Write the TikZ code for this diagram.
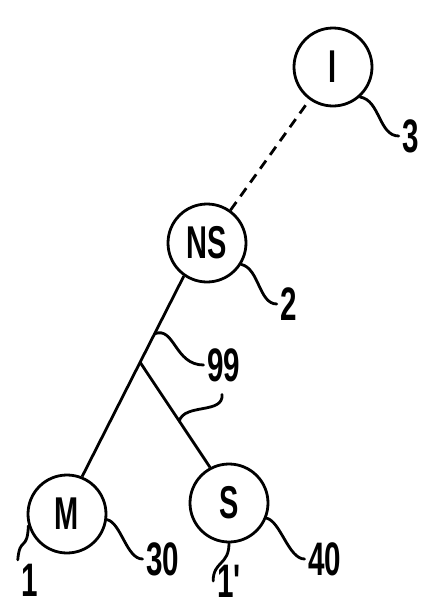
\documentclass[tikz,border=0pt]{standalone}
\usepackage{fontspec}
\newfontfamily\patentfont[FakeStretch=0.63]{Liberation Sans Bold}
\usetikzlibrary{calc}

\tikzset{
	state/.style={circle, draw, line width=2.8pt, minimum size=78pt, inner sep=0pt,
		font=\patentfont\fontsize{46}{46}\selectfont},
	tag/.style={inner sep=2pt, outer sep=2pt, text depth=0pt,
		font=\patentfont\fontsize{47}{47}\selectfont},
	lead/.style={line width=2.8pt, line cap=round},
	link/.style={line width=2.8pt},
	dashlink/.style={line width=2.8pt, dash pattern=on 10pt off 7pt}
}

\begin{document}
\begin{tikzpicture}[x=1pt, y=-1pt]
	\useasboundingbox (0,0) rectangle (423,606);

	% the four states
	\node[state] (I) at (333,67) {I};
	\node[state] (NS) at (207,243) {NS};
	\node[state] (M) at (67,514) {M};
	\node[state] (S) at (229,503) {S};

	% reference numerals
	\node[tag] (l3) at (411,136) {3};
	\node[tag] (l2) at (289,304) {2};
	\node[tag] (l99) at (224,365) {99};
	\node[tag] (l30) at (163,559) {30};
	\node[tag] (l40) at (325,559) {40};
	\node[tag] (l1) at (30,580) {1};
	\node[tag] (l1p) at (231,581) {1\textquotesingle};

	% tree
	\draw[dashlink] (NS) -- (I);
	\draw[link] (NS.235) -- (M.68);
	\coordinate (fork) at ($(NS.235)!0.43!(M.68)$);
	\draw[link] (fork) -- (S.118);

	% leaders
	\draw[lead] (I.-48) .. controls +(20,3) and +(-20,0) .. (l3.west);
	\draw[lead] (NS.-32) .. controls +(18,4) and +(-18,0) .. (l2.west);
	\draw[lead] (M.-8) .. controls +(14,3) and +(-16,0) .. (l30.west);
	\draw[lead] (S.-22) .. controls +(14,3) and +(-16,0) .. (l40.west);
	\draw[lead] (M.197) .. controls +(-1,26) and +(2,-24) .. (l1.north west);
	\draw[lead] (S.-90) .. controls +(0,22) and +(0,-20) .. (l1p.west);

	\coordinate (s99a) at ($(NS.235)!0.288!(M.68)$);
	\coordinate (s99b) at ($(fork)!0.56!(S.118)$);
	\coordinate (t99) at ($(l99.south)+(-2,9)$);
	\draw[lead] (s99a) .. controls +(20,-8) and +(-29,0) .. (l99.west);
	\draw[lead] (s99b) .. controls +(5,-18) and +(2,20) .. (t99);
\end{tikzpicture}
\end{document}
